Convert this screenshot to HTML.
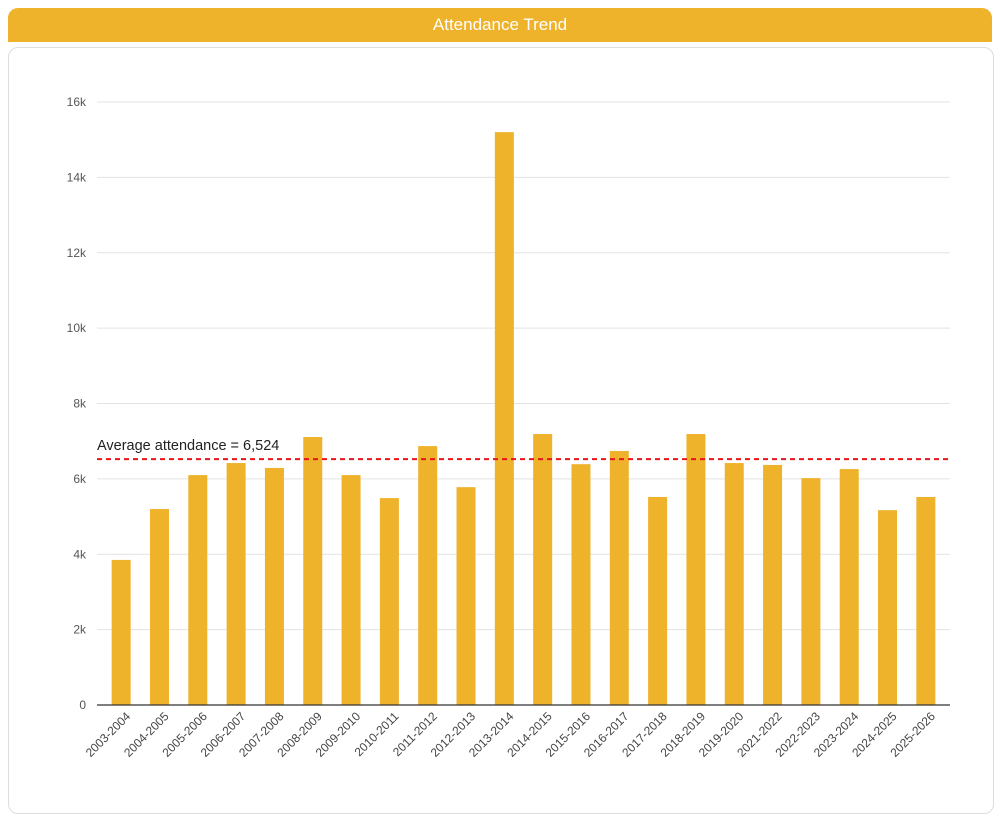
<!DOCTYPE html>
<html><head><meta charset="utf-8"><style>
body{margin:0;background:#fff;font-family:"Liberation Sans",sans-serif;}
#hdr{position:absolute;left:8px;top:8px;width:984px;height:34px;background:#EEB22B;border-radius:10px 10px 0 0;color:#fff;font-size:17px;text-align:center;line-height:34px;}
#card{position:absolute;left:8px;top:47px;width:986px;height:767px;border:1px solid #ddd;border-radius:10px;box-sizing:border-box;}
svg{position:absolute;left:0;top:0;}
</style></head><body>
<div id="hdr">Attendance Trend</div>
<div id="card"></div>
<svg id="c" width="1000" height="819"></svg>
<script>
const categories=["2003-2004","2004-2005","2005-2006","2006-2007","2007-2008","2008-2009","2009-2010","2010-2011","2011-2012","2012-2013","2013-2014","2014-2015","2015-2016","2016-2017","2017-2018","2018-2019","2019-2020","2021-2022","2022-2023","2023-2024","2024-2025","2025-2026"];
const values=[3850,5200,6100,6420,6290,7110,6100,5490,6870,5780,15200,7190,6390,6740,5520,7190,6420,6370,6020,6260,5170,5520];
const yTicks=[0,2000,4000,6000,8000,10000,12000,14000,16000];
const tickLabels=["0","2k","4k","6k","8k","10k","12k","14k","16k"];
const average=6524;
const NS="http://www.w3.org/2000/svg";
const svg=document.getElementById('c');
const x0=102,x1=945,yb=705,yt=102,yMax=16000;
const band=(x1-x0)/categories.length;
const y=v=>yb-(v/yMax)*(yb-yt);
const xc=i=>x0+band*(i+0.5);
function mk(t,a){const e=document.createElementNS(NS,t);for(const k in a)e.setAttribute(k,a[k]);svg.appendChild(e);return e;}
yTicks.forEach((t,i)=>{
 if(t>0){const g=mk('line',{x1:97,x2:950,y1:y(t),y2:y(t),stroke:'#e3e3e3','stroke-width':1});
 
 }
 const l=mk('text',{x:86,y:y(t)+4,'text-anchor':'end','font-size':12,fill:'#555'});
 l.textContent=tickLabels[i];
 
 
});
values.forEach((v,i)=>{
 const r=mk('rect',{x:xc(i)-9.5,y:y(v),width:19,height:yb-y(v),fill:'#EEB22B'});
 
 
 const t=mk('text',{x:0,y:0,'text-anchor':'end','font-size':12,fill:'#444',transform:`translate(${xc(i)+10},${yb+12}) rotate(-45)`});
 t.textContent=categories[i];
 
 
});
const ax=mk('line',{x1:97,x2:950,y1:yb,y2:yb,stroke:'#333','stroke-width':1.3});


const al=mk('line',{x1:97,x2:950,y1:y(average),y2:y(average),stroke:'#e8141a','stroke-width':2,'stroke-dasharray':'5,4'});


const at=mk('text',{x:97,y:y(average)-9,'font-size':14.5,fill:'#222'});
at.textContent='Average attendance = 6,524';


</script>
</body></html>
